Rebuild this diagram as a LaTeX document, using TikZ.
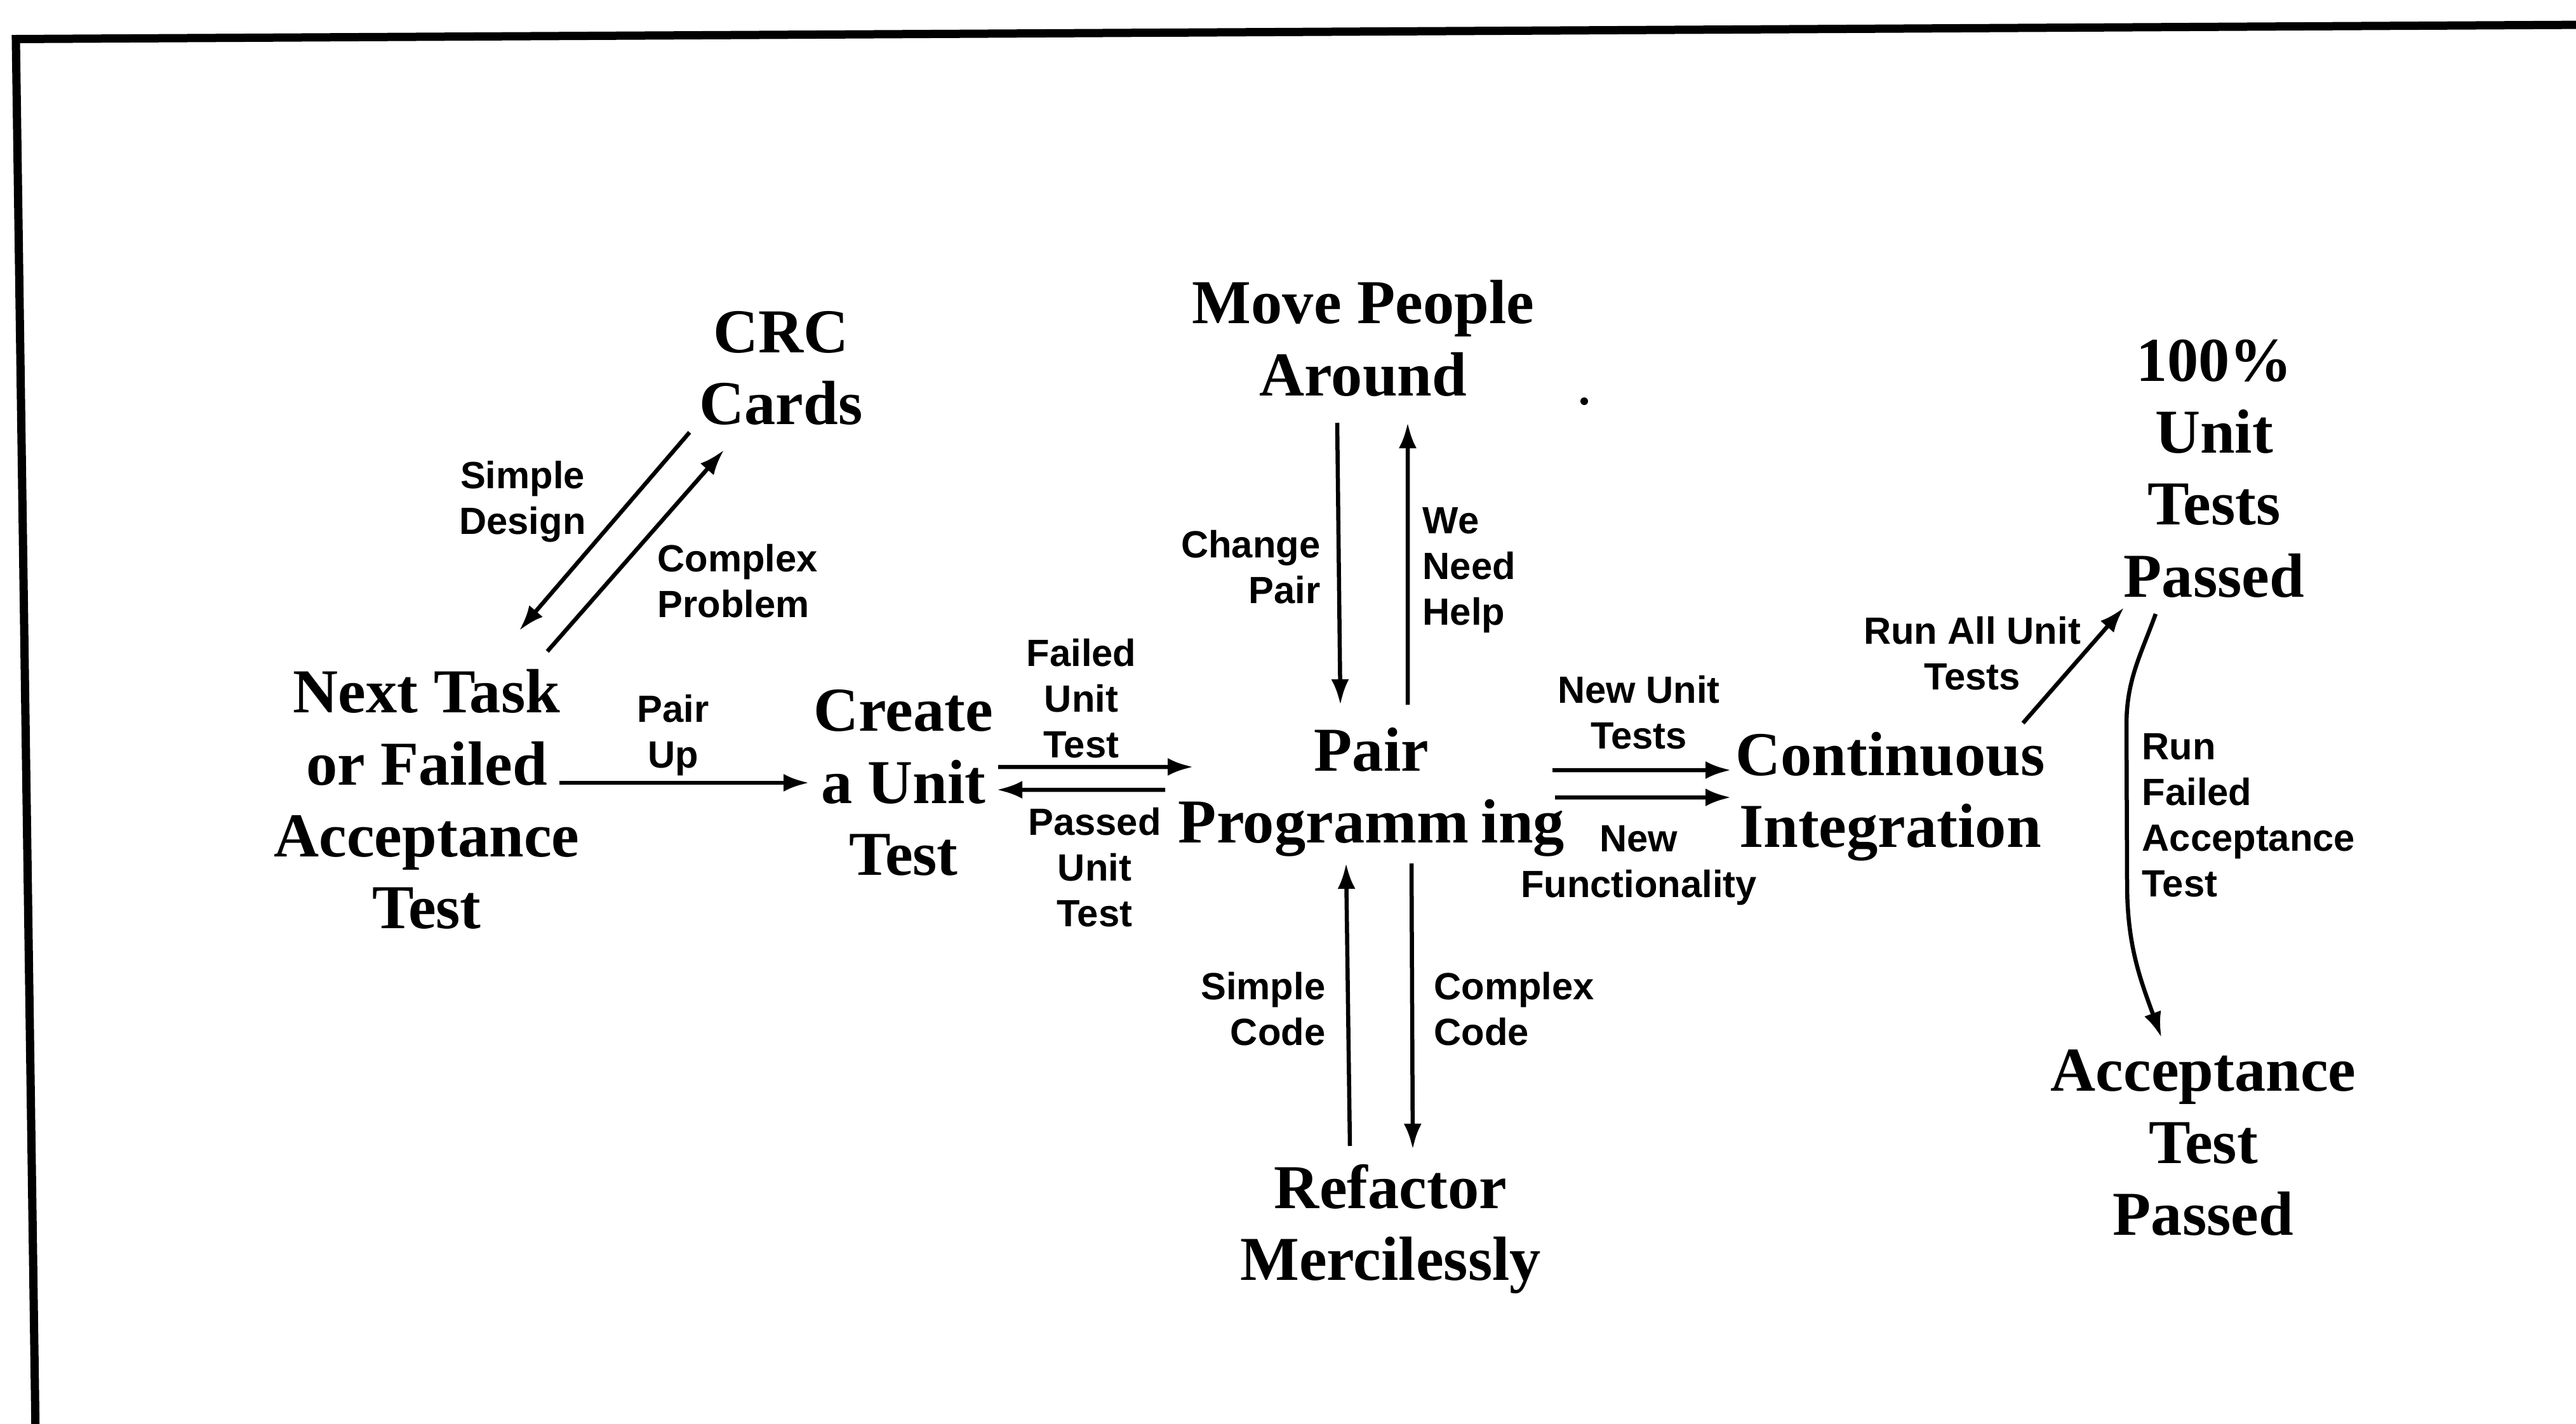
\documentclass[tikz,border=0pt]{standalone}
\usepackage{fontspec}
\setmainfont{Liberation Serif}
\setsansfont{Liberation Sans}
\usetikzlibrary{arrows.meta}

\tikzset{
  stage/.style={font=\bfseries\fontsize{28}{32.2}\selectfont, align=center, inner sep=0pt},
  lbl/.style={font=\sffamily\bfseries\fontsize{17}{20.5}\selectfont, inner sep=0pt},
  arr/.style={line width=0.65mm, -{Latex[length=4mm,width=2.8mm]}},
  frameline/.style={line width=1.3mm, line join=miter}
}

\begin{document}
\begin{tikzpicture}[x=1cm,y=1cm]
\useasboundingbox (0,0) rectangle (40.57,-22.43);

% open frame: top edge and left edge
\draw[frameline] (40.80,-0.39) -- (0.25,-0.615) -- (0.56,-22.60);

% stages
\node[stage] (crc)      at (12.30,-5.80)  {CRC\\Cards};
\node[stage] (next)     at (6.72,-12.59)  {Next Task\\or Failed\\Acceptance\\Test};
\node[stage] (create)   at (14.23,-12.33) {Create\\a Unit\\Test};
\node[stage] (move)     at (21.47,-5.33)  {Move People\\Around};
\node[stage] (pair)     at (21.60,-12.48) {Pair\\Programm\kern0.2em ing};
\node[stage] (refactor) at (21.90,-19.36) {Refactor\\Mercilessly};
\node[stage] (ci)       at (29.77,-12.55) {Continuous\\Integration};
\node[stage] (unitp)    at (34.87,-7.38)  {100\%\\Unit\\Tests\\Passed};
\node[stage] (acc)      at (34.70,-18.00) {Acceptance\\Test\\Passed};

% transition labels
\node[lbl, align=center] (lsd)    at (8.23,-7.90)  {Simple\\Design};
\node[lbl, align=left, anchor=west] (lcp) at (10.35,-9.15) {Complex\\Problem};
\node[lbl, align=center] (lpu)    at (10.60,-11.58) {Pair\\Up};
\node[lbl, align=center] (lfut)   at (17.03,-11.00) {Failed\\Unit\\Test};
\node[lbl, align=center] (lput)   at (17.24,-13.66) {Passed\\Unit\\Test};
\node[lbl, align=right, anchor=east] (lcpair) at (20.80,-8.93) {Change\\Pair};
\node[lbl, align=left, anchor=west]  (lwnh)   at (22.40,-8.98) {We\\Need\\Help};
\node[lbl, align=right, anchor=east] (lsc)    at (20.88,-15.89) {Simple\\Code};
\node[lbl, align=left, anchor=west]  (lcc)    at (22.58,-15.89) {Complex\\Code};
\node[lbl, align=center] (lnut)   at (25.81,-11.22) {New Unit\\Tests};
\node[lbl, align=center] (lnf)    at (25.81,-13.63) {New\\Functionality};
\node[lbl, align=center] (lrau)   at (31.06,-10.29) {Run All Unit\\Tests};
\node[lbl, align=left, anchor=west] (lrfat) at (33.73,-12.84) {Run\\Failed\\Acceptance\\Test};

% transitions
\draw[arr] ([shift={(-1.44,-1.01)}]crc.center) -- ([shift={(1.46,2.66)}]next.center);
\draw[arr] ([shift={(1.90,2.33)}]next.center) -- ([shift={(-0.90,-1.29)}]crc.center);
\draw[arr] ([shift={(2.09,0.26)}]next.center) -- ([shift={(-1.49,0)}]create.center);
\draw[arr] ([shift={(1.49,0.25)}]create.center) -- ([shift={(-2.81,0.40)}]pair.center);
\draw[arr] ([shift={(-3.25,0.04)}]pair.center) -- ([shift={(1.47,-0.11)}]create.center);
\draw[arr] ([shift={(-0.41,-1.33)}]move.center) -- ([shift={(-0.49,1.38)}]pair.center);
\draw[arr] ([shift={(0.57,1.38)}]pair.center) -- ([shift={(0.70,-1.33)}]move.center);
\draw[arr] ([shift={(-0.64,1.31)}]refactor.center) -- ([shift={(-0.40,-1.12)}]pair.center);
\draw[arr] ([shift={(0.63,-1.12)}]pair.center) -- ([shift={(0.35,1.26)}]refactor.center);
\draw[arr] ([shift={(2.85,0.35)}]pair.center) -- ([shift={(-2.51,0.42)}]ci.center);
\draw[arr] ([shift={(2.89,-0.08)}]pair.center) -- ([shift={(-2.51,-0.01)}]ci.center);
\draw[arr] ([shift={(2.09,1.16)}]ci.center) -- ([shift={(-1.42,-2.19)}]unitp.center);
\draw[arr] ([shift={(-0.92,-2.29)}]unitp.center) to[out=-110,in=90] ++(-0.46,-1.75)
  -- ++(0.01,-2.5) to[out=-90,in=110] ([shift={(-0.66,1.66)}]acc.center);

% speck
\fill (24.95,-6.32) circle (0.06);
\end{tikzpicture}
\end{document}
